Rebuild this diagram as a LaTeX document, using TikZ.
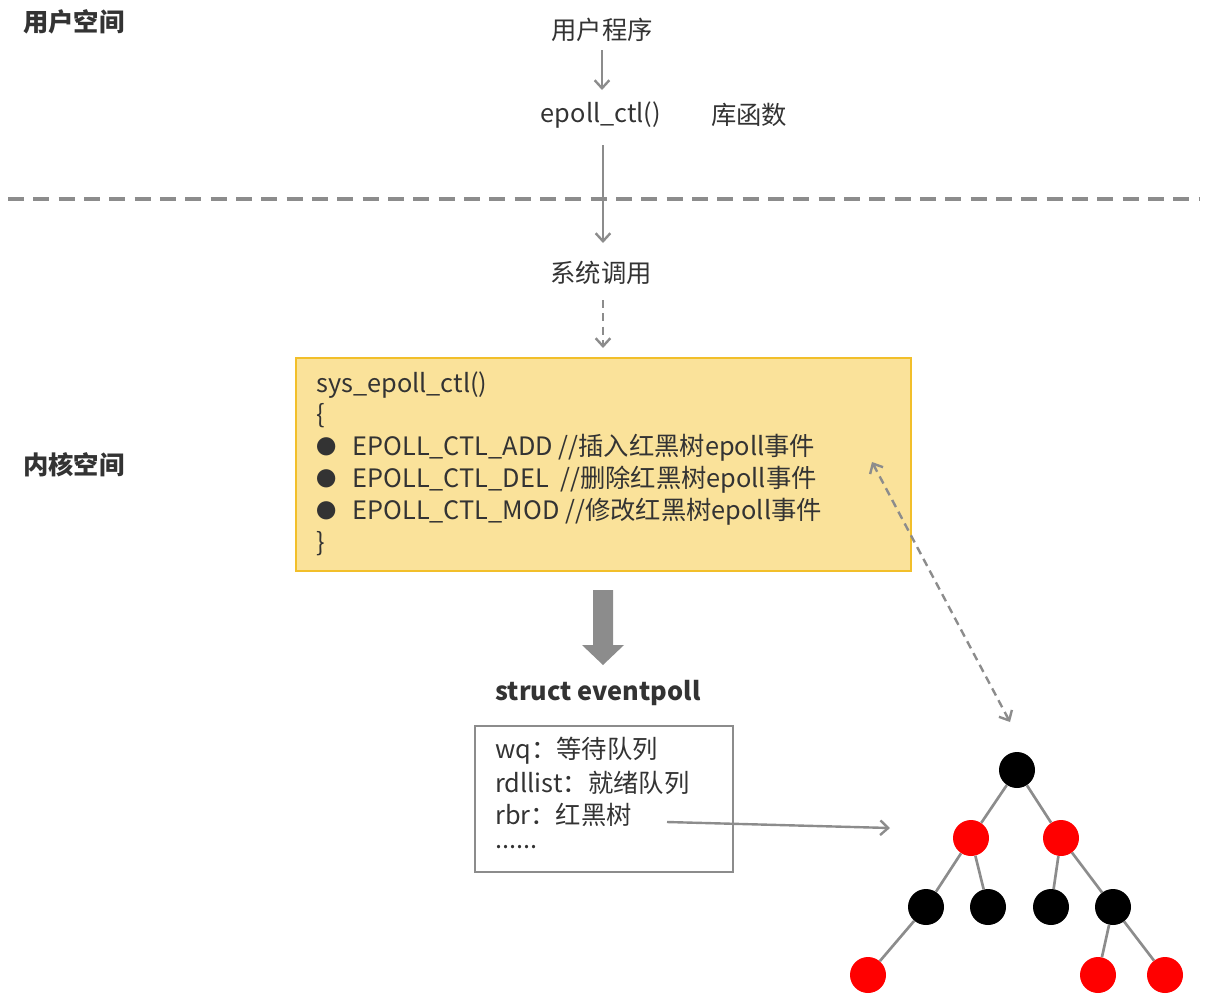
\documentclass[tikz,border=0pt]{standalone}
\usepackage{fontspec}
\setmainfont{Noto Sans CJK SC}
\usetikzlibrary{arrows.meta}
\definecolor{txt}{HTML}{333333}
\definecolor{ln}{HTML}{8C8C8C}
\definecolor{yel}{HTML}{FAE29A}
\definecolor{yelb}{HTML}{F2BF2A}
\newcommand{\blt}{\raisebox{1pt}{\scalebox{0.8}{●}}\hspace{12pt}}
\begin{document}
\begin{tikzpicture}[x=0.75pt,y=-0.75pt,
  t/.style={text=txt,font=\fontsize{19}{22}\selectfont,inner sep=0pt},
  tl/.style={t,anchor=west},
  hd/.style={t,font=\fontsize{19}{22}\selectfont\bfseries},
  ar/.style={draw=ln,line width=1.8pt,-{Straight Barb[length=6pt,width=11pt]}},
  da/.style={dash pattern=on 6pt off 4pt},
  rb/.style={circle,minimum size=27pt,inner sep=0pt},
  ed/.style={draw=ln,line width=2pt}]
\useasboundingbox (0,0) rectangle (1213,1004);
\node[hd,anchor=west] (us) at (23,22) {用户空间};
\node[hd,anchor=west] (ks) at (23,465) {内核空间};
\node[t] (up) at (602,30) {用户程序};
\node[t] (ec) at (601,115) {epoll\_ctl()};
\node[t] (lib) at (749,115) {库函数};
\draw[draw=ln,line width=2.5pt,dash pattern=on 12pt off 7pt] (8,199) -- (1200,199);
\node[t] (sc) at (601,273) {系统调用};
\coordinate (a1) at (602,50); \coordinate (a2) at (602,90);
\draw[ar] (a1) -- (a2);
\coordinate (b1) at (603,145); \coordinate (b2) at (603,243);
\draw[ar] (b1) -- (b2);
\coordinate (c1) at (603,300); \coordinate (c2) at (603,348);
\draw[ar,da] (c1) -- (c2);
\node[draw=yelb,fill=yel,line width=1.8pt,minimum width=615*0.75pt,minimum height=213*0.75pt,inner sep=0pt] (box) at (603.5,464.5) {};
\node[tl] at (316,385) {sys\_epoll\_ctl()};
\node[tl] at (316,416) {\{};
\node[tl] at (316,448) {\blt EPOLL\_CTL\_ADD //插入红黑树epoll事件};
\node[tl] at (316,480) {\blt EPOLL\_CTL\_DEL\ \ //删除红黑树epoll事件};
\node[tl] at (316,512) {\blt EPOLL\_CTL\_MOD //修改红黑树epoll事件};
\node[tl] at (316,544) {\}};
\fill[ln] (593,590) -- (613,590) -- (613,645) -- (624,645) -- (603,665) -- (582,645) -- (593,645) -- cycle;
\node[hd] (se) at (598,693) {struct eventpoll};
\node[draw=ln,line width=1.8pt,minimum width=258*0.75pt,minimum height=146*0.75pt,inner sep=0pt] (ep) at (604,799) {};
\node[tl] at (495,751) {wq：等待队列};
\node[tl] at (495,783) {rdllist：就绪队列};
\node[tl] (rbr) at (495,815) {rbr：红黑树};
\node[tl] at (495,847) {......};
\coordinate (r1) at (667,822); \coordinate (r2) at (890,828);
\draw[ar] (r1) -- (r2);
\coordinate (d1) at (872,462); \coordinate (d2) at (1010,722);
\draw[ar,da,{Straight Barb[length=6pt,width=11pt]}-{Straight Barb[length=6pt,width=11pt]}] (d1) -- (d2);
\node[rb,fill=black] (n0) at (1017,770) {};
\node[rb,fill=red] (n1) at (971,838) {};
\node[rb,fill=red] (n2) at (1061,838) {};
\node[rb,fill=black] (n3) at (926,907) {};
\node[rb,fill=black] (n4) at (988,907) {};
\node[rb,fill=black] (n5) at (1051,907) {};
\node[rb,fill=black] (n6) at (1113,907) {};
\node[rb,fill=red] (n7) at (868,975) {};
\node[rb,fill=red] (n8) at (1098,975) {};
\node[rb,fill=red] (n9) at (1165,975) {};
\draw[ed] (n0)--(n1) (n0)--(n2) (n1)--(n3) (n1)--(n4) (n2)--(n5) (n2)--(n6) (n3)--(n7) (n6)--(n8) (n6)--(n9);
\end{tikzpicture}
\end{document}
